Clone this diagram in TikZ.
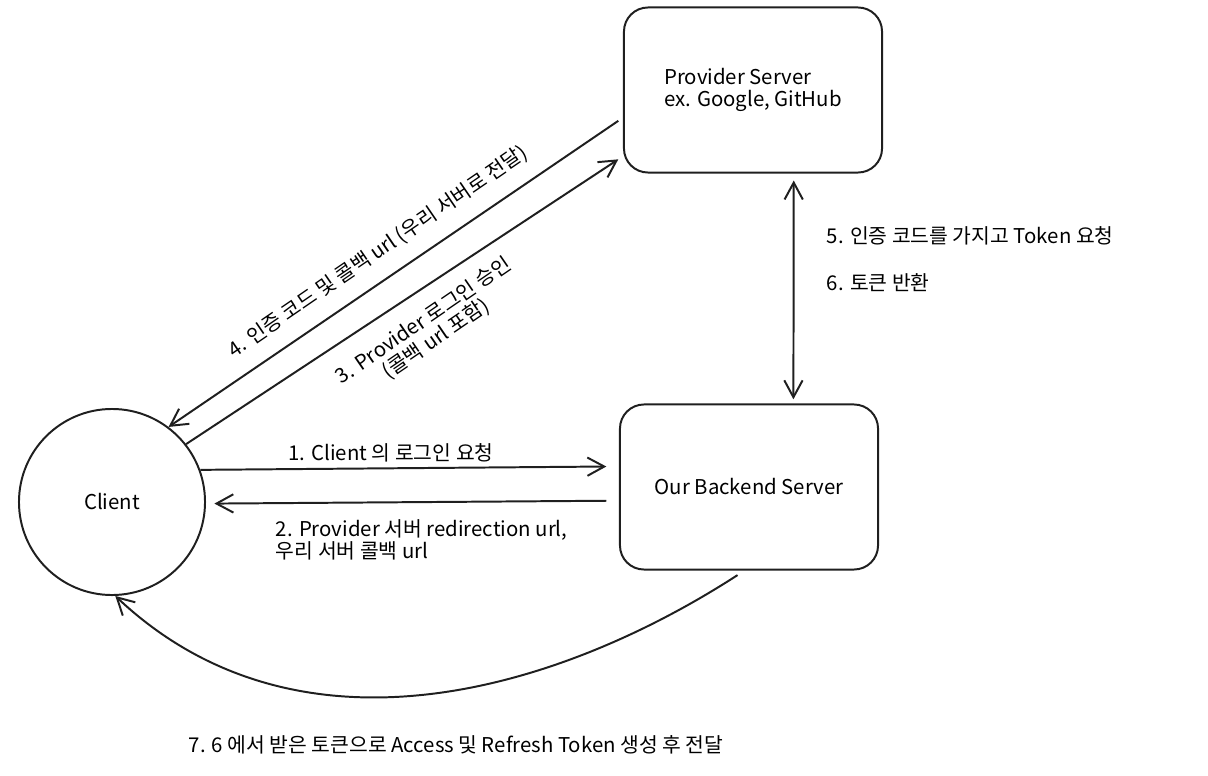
\documentclass[tikz,border=0pt]{standalone}
\usepackage{fontspec}
\setmainfont{Noto Sans CJK KR}
\usetikzlibrary{arrows.meta}
\colorlet{inkcol}{black!88}

\begin{document}
\begin{tikzpicture}[x=0.025cm, y=-0.025cm, font=\fontsize{14.5}{15.8}\selectfont,
		server/.style={draw=inkcol, line width=1.4pt, rounded corners=0.6cm, minimum width=6.45cm, minimum height=4.125cm},
		flow/.style={draw=inkcol, line width=1.4pt, -{Straight Barb[length=12pt, width=13pt]}}]
		\useasboundingbox (0,0) rectangle (1208,775);
		\node[server, align=left] (provider) at (753,90) {Provider Server\\ex. Google, GitHub};
		\node[server] (backend) at (749,487) {Our Backend Server};
		\node[shape=circle, draw=inkcol, line width=1.4pt, minimum size=4.65cm] (client) at (112,502) {Client};
		\draw[flow, shorten <=4pt] (provider.192) -- (client.53);
		\draw[flow, shorten >=4pt] (client.38) -- (provider.207);
		\draw[flow, shorten >=9pt] (client.20) -- (backend.171);
		\draw[flow, shorten <=9pt, shorten >=6pt] (backend.186) -- (client.-1);
		\draw[flow, {Straight Barb[length=12pt, width=13pt]}-{Straight Barb[length=12pt, width=13pt]}, shorten <=5pt, shorten >=3pt] (provider.-64.7) -- (backend.62.5);
		\draw[flow, shorten <=6pt] (backend.267) .. controls (560,690) and (300,770) .. (client.-88);
		\node[rotate=34.4] (step4) at (378,252) {4. 인증 코드 및 콜백 url (우리 서버로 전달)};
		\node[rotate=34.4, align=center] (step3) at (430,330) {3. Provider 로그인 승인\\(콜백 url 포함)};
		\node (step1) at (391,453) {1. Client 의 로그인 요청};
		\node[anchor=west, align=left] (step2) at (271,540) {2. Provider 서버 redirection url,\\우리 서버 콜백 url};
		\node[anchor=west] (step5) at (822,236) {5. 인증 코드를 가지고 Token 요청};
		\node[anchor=west] (step6) at (822,283) {6. 토큰 반환};
		\node (step7) at (456,745) {7. 6 에서 받은 토큰으로 Access 및 Refresh Token 생성 후 전달};
	\end{tikzpicture}
\end{document}
